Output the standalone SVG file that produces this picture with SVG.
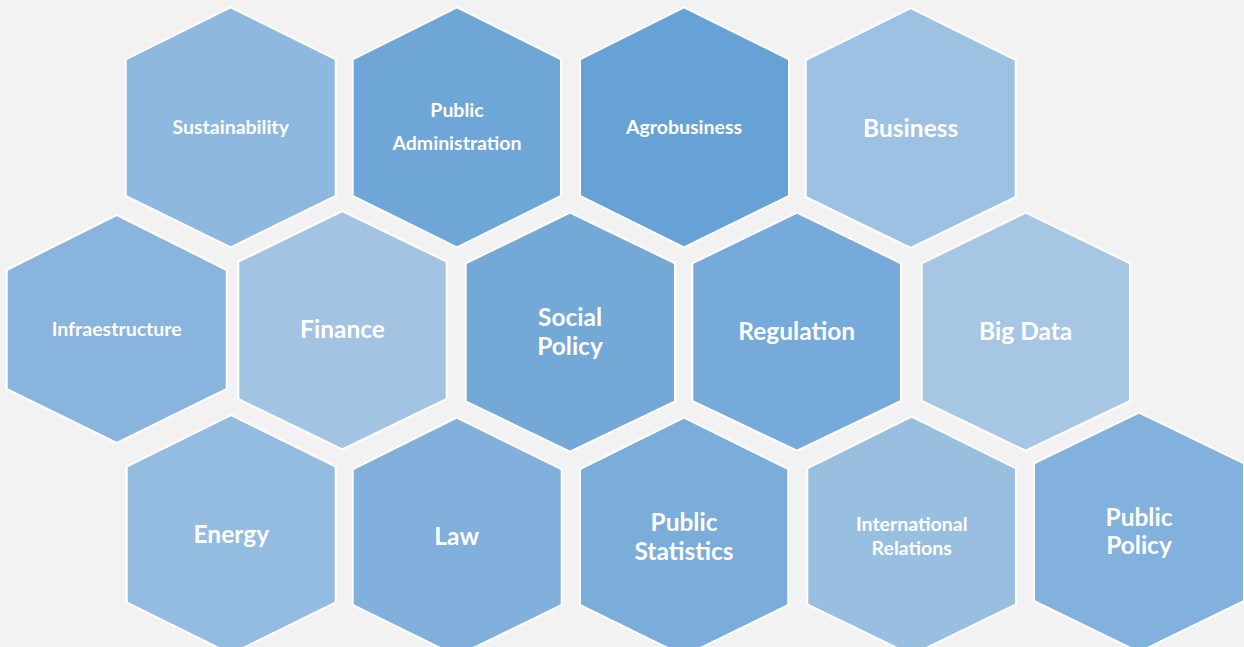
<svg xmlns="http://www.w3.org/2000/svg" width="1244" height="647" viewBox="0 0 1244 647">
<style>
.hex{stroke:#ffffff;stroke-width:2;stroke-linejoin:miter}
.t{font-family:Lato,"Open Sans","Liberation Sans",sans-serif;font-weight:bold;fill:#ffffff;text-anchor:middle}
.s{font-size:19.5px}
.l{font-size:24.5px}
</style>
<rect width="1244" height="647" fill="#f2f2f2"/>
<g id="sustainability">
<polygon class="hex" fill="#8eb8df" points="230.7,7.3 335.7,59.3 335.7,196 230.7,247.3 125.7,196 125.7,59.3"/>
<text class="t s" x="230.7" y="134">Sustainability</text>
</g>
<g id="public-administration">
<polygon class="hex" fill="#6ea6d7" points="457,7.3 561,59.3 561,196 457,247.3 352.7,196 352.7,59.3"/>
<text class="t s" x="457" y="117">Public</text>
<text class="t s" x="457" y="150">Administration</text>
</g>
<g id="agrobusiness">
<polygon class="hex" fill="#67a2d6" points="684,7.3 789,59.3 789,196 684,247.3 580,196 580,59.3"/>
<text class="t s" x="684" y="134">Agrobusiness</text>
</g>
<g id="business">
<polygon class="hex" fill="#9dc1e2" points="910.7,8 1015.7,60 1015.7,197 910.7,248 805.7,197 805.7,60"/>
<text class="t l" x="910.7" y="137">Business</text>
</g>
<g id="infraestructure">
<polygon class="hex" fill="#88b4dd" points="116.7,215 226.7,270 226.7,389 116.7,443 6.7,389 6.7,270"/>
<text class="t s" x="116.7" y="336">Infraestructure</text>
</g>
<g id="finance">
<polygon class="hex" fill="#a3c3e2" points="342.3,211 446.7,261.7 446.7,399 342.3,449.3 238.3,399 238.3,261.7"/>
<text class="t l" x="342.5" y="338">Finance</text>
</g>
<g id="social-policy">
<polygon class="hex" fill="#74a8d7" points="570,212.7 675,263.3 675,401.3 570,451.7 465.7,401.3 465.7,263.3"/>
<text class="t l" x="570" y="326">Social</text>
<text class="t l" x="570" y="355">Policy</text>
</g>
<g id="regulation">
<polygon class="hex" fill="#76aada" points="797,212.7 901,263.3 901,401 797,450.7 692.3,401 692.3,263.3"/>
<text class="t l" x="796.7" y="340">Regulation</text>
</g>
<g id="big-data">
<polygon class="hex" fill="#a7c6e3" points="1025.7,212.7 1130,263.3 1130,401 1025.7,450.7 921.7,401 921.7,263.3"/>
<text class="t l" x="1025.7" y="340">Big Data</text>
</g>
<g id="energy">
<polygon class="hex" fill="#94bbe0" points="231,415 335.7,466.7 335.7,602.3 231,654 126.7,602.3 126.7,466.7"/>
<text class="t l" x="231.3" y="543">Energy</text>
</g>
<g id="law">
<polygon class="hex" fill="#81b0dc" points="456.7,417.7 561.7,469.3 561.7,605 456.7,656 352.7,605 352.7,469.3"/>
<text class="t l" x="456.7" y="545">Law</text>
</g>
<g id="public-statistics">
<polygon class="hex" fill="#7baddb" points="684,417.7 788.3,469 788.3,605 684,656 580,605 580,469"/>
<text class="t l" x="684" y="531">Public</text>
<text class="t l" x="684" y="560">Statistics</text>
</g>
<g id="international-relations">
<polygon class="hex" fill="#98bee0" points="911.7,416.7 1016,468.3 1016,604.3 911.7,655 807.3,604.3 807.3,468.3"/>
<text class="t s" x="911.7" y="531">International</text>
<text class="t s" x="911.7" y="555">Relations</text>
</g>
<g id="public-policy">
<polygon class="hex" fill="#83b1dd" points="1139,412.7 1244,463.3 1244,601 1139,652 1034,601 1034,463.3"/>
<text class="t l" x="1139" y="526">Public</text>
<text class="t l" x="1139" y="554">Policy</text>
</g>
<g id="connectors"/>
</svg>
